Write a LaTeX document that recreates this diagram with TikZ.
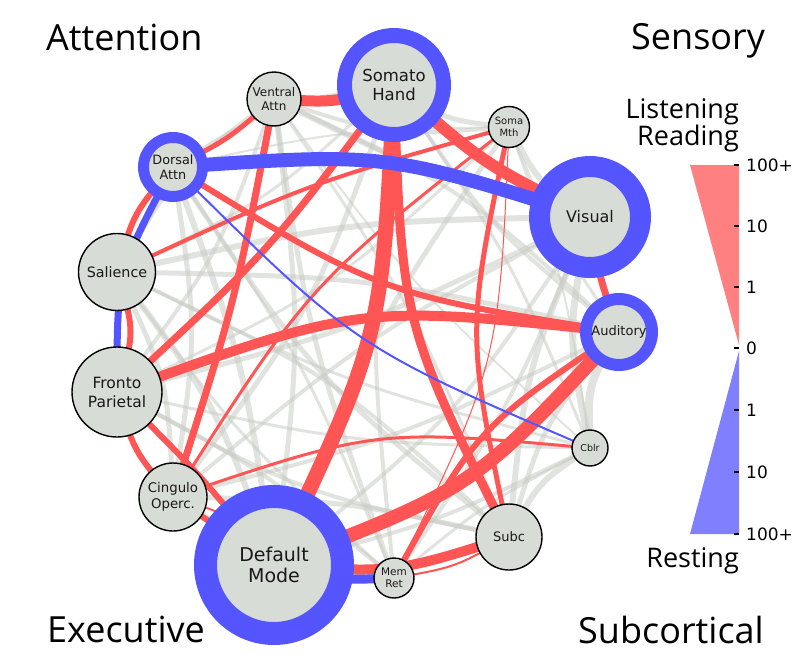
\documentclass[tikz,border=0pt]{standalone}
\usepackage{fontspec}
\setmainfont{DejaVu Sans}
\newfontfamily\labelfont{Open Sans}
\usetikzlibrary{calc,backgrounds}

\definecolor{nodegray}{RGB}{216,220,214}
\definecolor{ringblue}{RGB}{85,85,255}
\definecolor{linkred}{RGB}{255,85,85}
\definecolor{linkblue}{RGB}{85,85,255}
\definecolor{linkgray}{RGB}{200,204,196}
\definecolor{legred}{RGB}{255,128,128}
\definecolor{legblue}{RGB}{128,128,255}

% curved link between two named nodes, #4 = bow (+ left, - right)
\newcommand{\bowlink}[4][]{%
  \draw[#1] (#2.center) .. controls ($(#2.center)!0.5!(#3.center)!#4!-90:(#3.center)$) .. (#3.center);%
}

\begin{document}
\begin{tikzpicture}[x=1pt,y=1pt,yscale=-1,
  net/.style={circle,fill=nodegray,draw=black,line width=1.4pt,inner sep=0pt,align=center,text=black!90},
  ring/.style={circle,fill=nodegray,draw=ringblue,inner sep=0pt,align=center,text=black!90},
  redlink/.style={draw=linkred},
  bluelink/.style={draw=linkblue},
  graylink/.style={draw=linkgray,draw opacity=.55},
  corner/.style={font=\labelfont\fontsize{36}{40}\selectfont,inner sep=0pt},
  legtitle/.style={font=\labelfont\fontsize{27}{30}\selectfont,inner sep=0pt,anchor=base east}]
\useasboundingbox (0,0) rectangle (812,661);

% Network nodes
\node[ring,minimum size=99pt,line width=15pt,font=\fontsize{16.5}{19.5}\selectfont] (somhand) at (394,85) {Somato\\Hand};
\node[net,minimum size=54pt,font=\fontsize{12}{14}\selectfont] (venattn) at (274,99) {Ventral\\Attn};
\node[ring,minimum size=59pt,line width=11pt,font=\fontsize{12.8}{15}\selectfont] (dorattn) at (173,167) {Dorsal\\Attn};
\node[net,minimum size=77pt,font=\fontsize{14.3}{16}\selectfont] (salience) at (117,272) {Salience};
\node[net,minimum size=41pt,font=\fontsize{10}{11.5}\selectfont] (sommth) at (509,127) {Soma\\Mth};
\node[ring,minimum size=101pt,line width=21pt,font=\fontsize{16}{18}\selectfont] (visual) at (590,217) {Visual};
\node[ring,minimum size=66pt,line width=12pt,font=\fontsize{13}{15}\selectfont] (auditory) at (619,332) {Auditory};
\node[net,minimum size=36pt,font=\fontsize{9.5}{11}\selectfont] (cblr) at (590,448) {Cblr};
\node[net,minimum size=66pt,font=\fontsize{13}{15}\selectfont] (subc) at (509,537) {Subc};
\node[net,minimum size=40pt,font=\fontsize{10.5}{12}\selectfont] (memret) at (394,578) {Mem\\Ret};
\node[ring,minimum size=137pt,line width=23pt,font=\fontsize{19}{21.5}\selectfont] (default) at (274,565) {Default\\Mode};
\node[net,minimum size=68pt,font=\fontsize{13.3}{15.5}\selectfont] (cingulo) at (173,497) {Cingulo\\Operc.};
\node[net,minimum size=90pt,font=\fontsize{15.5}{19}\selectfont] (fronto) at (117,392) {Fronto\\Parietal};

\begin{scope}[on background layer]
% weak links
\foreach \na/\nb/\lw/\bo in {salience/visual/6/0.1, salience/auditory/5/0.1, salience/cblr/3/-0.1,
  salience/subc/4/0.15, salience/memret/3/-0.1, salience/default/6/0.15, salience/cingulo/5/0.2,
  salience/venattn/4/0.2, salience/somhand/3/-0.15, dorattn/somhand/4/0.2, dorattn/sommth/2/0.1,
  dorattn/subc/5/-0.15, dorattn/memret/3/0.1, dorattn/default/6/0.1, dorattn/cingulo/5/0.15,
  venattn/sommth/4/-0.2, venattn/visual/6/-0.1, venattn/auditory/4/0.15, venattn/cblr/2/-0.1,
  venattn/subc/3/0.1, venattn/memret/5/-0.1, venattn/default/5/0.12, venattn/fronto/4/0.15,
  somhand/sommth/5/-0.25, somhand/auditory/4/-0.15, somhand/cblr/3/0.1, somhand/memret/4/-0.1,
  somhand/cingulo/5/0.15, sommth/visual/6/-0.25, sommth/auditory/3/-0.1, sommth/cblr/2/0.1,
  sommth/fronto/3/0.15, sommth/default/5/-0.1, visual/cblr/7/-0.2, visual/subc/6/-0.15,
  visual/memret/4/0.1, visual/default/4/0.15, visual/fronto/5/0.1, visual/cingulo/4/-0.1,
  auditory/cblr/8/-0.3, auditory/subc/5/-0.2, auditory/cingulo/4/0.1, cblr/subc/6/-0.25,
  cblr/memret/3/-0.1, cblr/fronto/3/0.1, cblr/default/4/0.1, subc/fronto/4/0.15,
  subc/cingulo/5/-0.1, memret/fronto/4/-0.1, memret/cingulo/6/0.2}
  {\bowlink[graylink,line width=\lw pt]{\na}{\nb}{\bo}}

% reading / listening links
\bowlink[redlink,line width=11pt]{venattn}{somhand}{-0.18}
\bowlink[redlink,line width=12pt]{somhand}{visual}{-0.13}
\bowlink[redlink,line width=7pt]{visual}{auditory}{-0.1}
\bowlink[redlink,line width=6pt]{dorattn}{salience}{-0.22}
\bowlink[redlink,line width=6pt]{salience}{fronto}{0.3}
\bowlink[redlink,line width=5pt]{dorattn}{venattn}{-0.13}
\bowlink[redlink,line width=7pt]{venattn}{cingulo}{0.06}
\bowlink[redlink,line width=7pt]{somhand}{fronto}{0.09}
\bowlink[redlink,line width=15pt]{somhand}{default}{0.2}
\bowlink[redlink,line width=9pt]{somhand}{subc}{-0.22}
\bowlink[redlink,line width=10pt]{fronto}{auditory}{0.23}
\bowlink[redlink,line width=14pt]{default}{auditory}{-0.23}
\bowlink[redlink,line width=10pt]{default}{subc}{-0.19}
\bowlink[redlink,line width=2pt]{memret}{subc}{-0.17}
\bowlink[redlink,line width=6pt]{memret}{auditory}{0.24}
\bowlink[redlink,line width=5pt]{sommth}{subc}{-0.21}
\bowlink[redlink,line width=1pt]{sommth}{memret}{0.21}
\bowlink[redlink,line width=4pt]{salience}{sommth}{0.08}
\bowlink[redlink,line width=3pt]{cingulo}{sommth}{0.17}
\bowlink[redlink,line width=6pt]{dorattn}{auditory}{-0.2}
\bowlink[redlink,line width=6pt]{fronto}{cingulo}{-0.22}
\bowlink[redlink,line width=6pt]{fronto}{default}{0.05}
\bowlink[redlink,line width=6pt]{cingulo}{default}{0}
\bowlink[redlink,line width=2pt]{cingulo}{default}{0.3}
\bowlink[redlink,line width=3pt]{cingulo}{cblr}{0.21}

% resting links
\bowlink[bluelink,line width=14pt]{dorattn}{visual}{0.19}
\bowlink[bluelink,line width=7pt]{dorattn}{fronto}{-0.25}
\bowlink[bluelink,line width=9pt]{default}{memret}{-0.15}
\bowlink[bluelink,line width=2pt]{dorattn}{cblr}{-0.19}
\end{scope}

% Corner labels
\node[corner,anchor=base west] (attention) at (46,51) {Attention};
\node[corner,anchor=base west] (sensory) at (631,50) {Sensory};
\node[corner,anchor=base west] (executive) at (47,642) {Executive};
\node[corner,anchor=base west] (subcortical) at (578,643) {Subcortical};

% Legend
\node[legtitle] (listening) at (739,118) {Listening};
\node[legtitle] (reading) at (739,145) {Reading};
\node[legtitle] (resting) at (739,567) {Resting};
\fill[legred] (690,165) -- (739,165) -- (739,345) -- cycle;
\fill[legblue] (739,351) -- (739,534) -- (690,534) -- cycle;
\foreach \ty/\tl in {165/100+, 226/10, 287/1, 348/0, 410/1, 472/10, 534/100+}
{
  \draw[line width=1.5pt] (734,\ty) -- (739,\ty);
  \node[anchor=west,inner sep=0pt,font=\fontsize{17}{20}\selectfont] (tick\ty) at (746,\ty) {\tl};
}
\end{tikzpicture}
\end{document}
